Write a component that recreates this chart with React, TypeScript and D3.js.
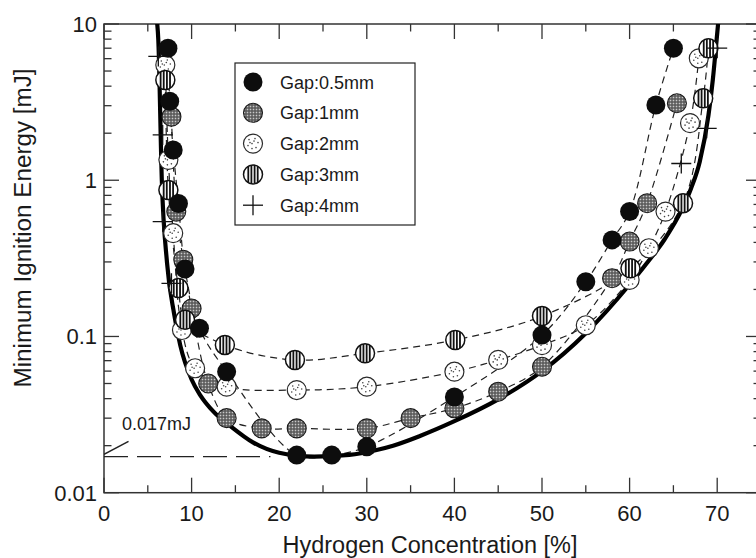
import React from "react";
import * as d3 from "d3";

// ---------- data ----------
const xTicks = [0, 10, 20, 30, 40, 50, 60, 70];
const xMinorTicks = [5, 15, 25, 35, 45, 55, 65];
const yTicks = [0.01, 0.1, 1, 10];
const yTickLabels = ["0.01", "0.1", "1", "10"];
const legendLabels = ["Gap:0.5mm", "Gap:1mm", "Gap:2mm", "Gap:3mm", "Gap:4mm"];

const gap05: [number, number][] = [
  [7.3, 7.0], [7.5, 3.2], [7.9, 1.56], [8.5, 0.71], [9.25, 0.27], [10.9, 0.113],
  [14.0, 0.0595], [22, 0.0174], [26, 0.0174], [30, 0.0197], [40, 0.041], [50, 0.102],
  [55, 0.224], [58, 0.415], [60, 0.63], [63, 3.03], [65, 7.0],
];
const gap1: [number, number][] = [
  [7.7, 2.55], [8.25, 0.63], [9.05, 0.31], [10.0, 0.151], [11.9, 0.05], [14.0, 0.03],
  [18, 0.0258], [22, 0.0258], [30, 0.0258], [35, 0.03], [40, 0.0347], [45, 0.0443],
  [50, 0.064], [58, 0.236], [60, 0.405], [62, 0.713], [65.4, 3.11],
];
const gap2: [number, number][] = [
  [7.0, 5.47], [7.35, 1.35], [7.9, 0.458], [8.9, 0.11], [10.4, 0.0626], [14.0, 0.0477],
  [22, 0.0454], [30, 0.0477], [40, 0.0595], [45, 0.0708], [50, 0.088], [55, 0.118],
  [60, 0.23], [62.2, 0.367], [64.1, 0.63], [66.9, 2.32], [67.9, 6.03],
];
const gap3: [number, number][] = [
  [7.0, 4.38], [7.35, 0.865], [8.5, 0.204], [9.25, 0.128], [13.8, 0.0883], [21.8, 0.0707],
  [29.8, 0.078], [40.1, 0.095], [50, 0.135], [60.1, 0.273], [66.1, 0.713], [68.4, 3.35],
  [69.0, 7.0],
];
const gap4: [number, number][] = [
  [6.2, 6.2], [6.7, 1.95], [6.7, 0.543], [7.7, 0.219], [65.9, 1.28], [68.8, 2.15], [70, 7.0],
];
const envelope: [number, number][] = [
  [6.0, 11], [6.2, 7.9], [6.6, 1.0], [7.2, 0.294], [8.0, 0.14], [8.7, 0.088], [10, 0.053],
  [11, 0.042], [12.5, 0.033], [14.5, 0.0265], [17, 0.021], [20, 0.018], [24, 0.017],
  [28, 0.01746], [31, 0.0187], [33, 0.02], [36, 0.023], [40, 0.0287], [45, 0.0396],
  [50, 0.06], [55, 0.105], [60, 0.215], [62, 0.296], [64, 0.419], [66, 0.655], [67, 0.883],
  [68, 1.31], [69, 2.6], [69.5, 4.4], [70, 8.7], [70.2, 11.5],
];
const mieValue = 0.017;
const mieLabel = "0.017mJ";
const mieLineEnd = 19;
const pointerLine: [number, number][] = [[0, 0.0176], [2.8, 0.0213]];

// ---------- layout ----------
const W = 756, H = 558;
const x = d3.scaleLinear().domain([0, 75]).range([104, 761]);
const y = d3.scaleLog().domain([0.01, 10]).range([492.7, 24]);
const FONT = "'Liberation Sans', Arial, Helvetica, sans-serif";
const R = 9.5;

const stripeOffsets = [-4.7, -1.6, 1.6, 4.7];
const dotOffsets = [[-4, -4], [2, -5], [5, -1], [-1, 0], [-5, 2], [3, 4], [-1, 5], [1, -2.5], [-3, -1]];

function Marker({ kind, cx, cy }: { kind: number; cx: number; cy: number }) {
  const t = `translate(${cx},${cy})`;
  if (kind === 0) return <circle cx={cx} cy={cy} r={R} fill="#0d0d0d" />;
  if (kind === 1)
    return <circle cx={cx} cy={cy} r={R} fill="url(#grayPat)" stroke="#1a1a1a" strokeWidth={1.1} />;
  if (kind === 2)
    return (
      <g transform={t}>
        <circle r={R} fill="#fff" stroke="#2a2a2a" strokeWidth={1.2} />
        {dotOffsets.map((d, i) => (
          <circle key={i} cx={d[0]} cy={d[1]} r={0.8} fill="#444" />
        ))}
      </g>
    );
  if (kind === 3)
    return (
      <g transform={t}>
        <circle r={R} fill="#fff" stroke="#111" strokeWidth={1.5} />
        {stripeOffsets.map((dx, i) => {
          const h = Math.sqrt(R * R - dx * dx);
          return <line key={i} x1={dx} x2={dx} y1={-h} y2={h} stroke="#111" strokeWidth={1.8} />;
        })}
      </g>
    );
  return (
    <g transform={t} stroke="#111" strokeWidth={1.3}>
      <line x1={-10} x2={10} y1={0} y2={0} />
      <line x1={0} x2={0} y1={-10} y2={10} />
    </g>
  );
}

export default function App() {
  const curve = d3
    .line<[number, number]>()
    .x((d) => x(d[0]))
    .y((d) => y(d[1]))
    .curve(d3.curveCatmullRom.alpha(0.5));
  const smooth = d3
    .line<[number, number]>()
    .x((d) => x(d[0]))
    .y((d) => y(d[1]))
    .curve(d3.curveMonotoneX);

  const dashedSeries = [gap1, gap2, gap3, gap05];
  const markerSeries: [number, [number, number][]][] = [
    [1, gap1], [2, gap2], [3, gap3], [0, gap05], [4, gap4],
  ];

  const x0 = x(0), x1 = x(75), yTop = y(10), yBot = y(0.01);
  const yMinor: number[] = [];
  [0.01, 0.1, 1].forEach((dec) => {
    for (let k = 2; k <= 9; k++) yMinor.push(dec * k);
  });
  const MAJ = 15, MIN = 7.5;

  const legendX = 235, legendY = 63;
  const rowY = (i: number) => 82 + i * 30.8;

  return (
    <svg width={W} height={H} style={{ position: "absolute", left: 0, top: 0, background: "#fff" }}>
      <defs>
        <pattern id="grayPat" patternUnits="userSpaceOnUse" width={3} height={3}>
          <rect width={3} height={3} fill="#555" />
          <rect x={0.7} y={0.7} width={1.6} height={1.6} fill="#c8c8c8" />
        </pattern>
        <clipPath id="plotClip">
          <rect x={x0} y={yTop} width={x1 - x0} height={yBot - yTop} />
        </clipPath>
      </defs>
      <rect width={W} height={H} fill="#fff" />

      {/* frame */}
      <rect x={x0} y={yTop} width={x1 - x0} height={yBot - yTop} fill="none" stroke="#333" strokeWidth={1.5} />

      {/* x ticks */}
      {xTicks.map((v) => (
        <g key={"xt" + v}>
          <line x1={x(v)} x2={x(v)} y1={yBot} y2={yBot - MAJ} stroke="#333" strokeWidth={1.3} />
          <line x1={x(v)} x2={x(v)} y1={yTop} y2={yTop + MAJ} stroke="#333" strokeWidth={1.3} />
          <text x={x(v)} y={521} textAnchor="middle" fontFamily={FONT} fontSize={22} fill="#1a1a1a">
            {v}
          </text>
        </g>
      ))}
      {xMinorTicks.map((v) => (
        <g key={"xm" + v}>
          <line x1={x(v)} x2={x(v)} y1={yBot} y2={yBot - MIN} stroke="#333" strokeWidth={1.3} />
          <line x1={x(v)} x2={x(v)} y1={yTop} y2={yTop + MIN} stroke="#333" strokeWidth={1.3} />
        </g>
      ))}
      {/* y ticks */}
      {yTicks.map((v, i) => (
        <g key={"yt" + v}>
          <line x1={x0} x2={x0 + MAJ} y1={y(v)} y2={y(v)} stroke="#333" strokeWidth={1.3} />
          <line x1={x1} x2={x1 - MAJ} y1={y(v)} y2={y(v)} stroke="#333" strokeWidth={1.3} />
          <text x={97} y={y(v)} dy="0.36em" textAnchor="end" fontFamily={FONT} fontSize={22} fill="#1a1a1a">
            {yTickLabels[i]}
          </text>
        </g>
      ))}
      {yMinor.map((v) => (
        <g key={"ym" + v}>
          <line x1={x0} x2={x0 + MIN} y1={y(v)} y2={y(v)} stroke="#333" strokeWidth={1.3} />
          <line x1={x1} x2={x1 - MIN} y1={y(v)} y2={y(v)} stroke="#333" strokeWidth={1.3} />
        </g>
      ))}

      {/* axis titles */}
      <text x={430} y={553} textAnchor="middle" fontFamily={FONT} fontSize={23} fill="#1a1a1a"
        textLength={295} lengthAdjust="spacingAndGlyphs">
        Hydrogen Concentration [%]
      </text>
      <text transform={`translate(31,228) rotate(-90)`} textAnchor="middle" fontFamily={FONT} fontSize={23}
        fill="#1a1a1a" textLength={319} lengthAdjust="spacingAndGlyphs">
        Minimum Ignition Energy [mJ]
      </text>

      <g clipPath="url(#plotClip)">
        {/* dashed fits */}
        {dashedSeries.map((s, i) => (
          <path key={"ds" + i} d={curve(s) || ""} fill="none" stroke="#222" strokeWidth={1.2} strokeDasharray="7,5" />
        ))}
        {/* envelope */}
        <path d={smooth(envelope) || ""} fill="none" stroke="#000" strokeWidth={4.2} />
        {/* 0.017 mJ annotation */}
        <line x1={x(0)} x2={x(mieLineEnd)} y1={y(mieValue)} y2={y(mieValue)} stroke="#222" strokeWidth={1.3}
          strokeDasharray="24,9" />
        <line x1={x(pointerLine[0][0])} y1={y(pointerLine[0][1])} x2={x(pointerLine[1][0])} y2={y(pointerLine[1][1])}
          stroke="#222" strokeWidth={1.5} />
        {/* markers */}
        {markerSeries.map(([k, s]) =>
          s.map((d, j) => <Marker key={k + "-" + j} kind={k} cx={x(d[0])} cy={y(d[1])} />)
        )}
      </g>
      <text x={122} y={430} fontFamily={FONT} fontSize={18} fill="#1a1a1a">
        {mieLabel}
      </text>

      {/* legend */}
      <rect x={legendX} y={legendY} width={180} height={162} fill="#fff" stroke="#222" strokeWidth={1.2} />
      {legendLabels.map((lab, i) => (
        <g key={lab}>
          <Marker kind={i} cx={253} cy={rowY(i)} />
          <text x={280} y={rowY(i) + 6.5} fontFamily={FONT} fontSize={18} fill="#1a1a1a">
            {lab}
          </text>
        </g>
      ))}
    </svg>
  );
}
